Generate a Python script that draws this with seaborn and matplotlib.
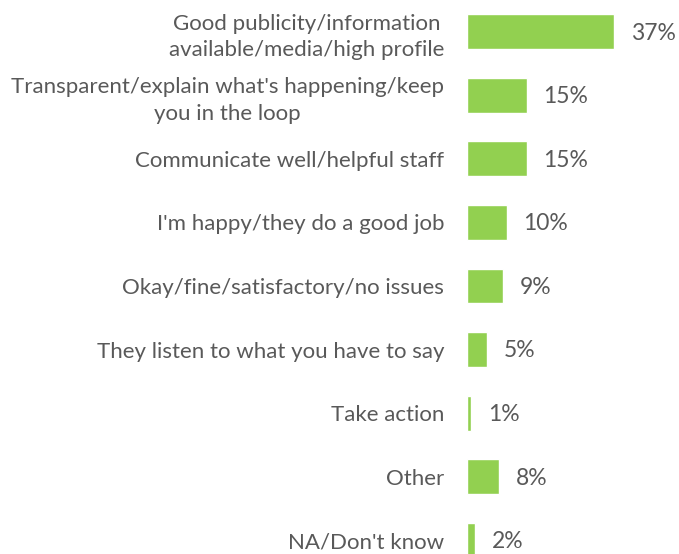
import matplotlib
matplotlib.use("Agg")
import matplotlib.pyplot as plt
import seaborn as sns
import pandas as pd

categories = [
    "Good publicity/information\navailable/media/high profile",
    "Transparent/explain what's happening/keep\nyou in the loop",
    "Communicate well/helpful staff",
    "I'm happy/they do a good job",
    "Okay/fine/satisfactory/no issues",
    "They listen to what you have to say",
    "Take action",
    "Other",
    "NA/Don't know",
]
values = [37, 15, 15, 10, 9, 5, 1, 8, 2]
value_labels = ["37%", "15%", "15%", "10%", "9%", "5%", "1%", "8%", "2%"]

sns.set_style("white")
plt.rcParams["font.family"] = ["Lato", "DejaVu Sans"]

GREEN = "#92D050"
TEXT = "#595959"

df = pd.DataFrame({"reason": categories, "pct": values})

fig = plt.figure(figsize=(6.79, 5.54), dpi=100)
ax = fig.add_axes([467 / 679, 0, 212 / 679, 1])

sns.barplot(data=df, y="reason", x="pct", orient="h", color=GREEN,
            saturation=1, width=0.55, ax=ax)

ax.set_xlim(0, 212 / 3.97)
ax.set_ylim(8.217, -0.5)
ax.set_xlabel("")
ax.set_ylabel("")
ax.set_xticks([])
for s in ax.spines.values():
    s.set_visible(False)

ax.tick_params(axis="y", length=0, pad=16.5, labelsize=16, labelcolor=TEXT)
for lbl in ax.get_yticklabels():
    lbl.set_multialignment("center")
    lbl.set_linespacing(1.4)

for i, (v, t) in enumerate(zip(values, value_labels)):
    ax.annotate(t, xy=(v, i), xytext=(12, -1), textcoords="offset points",
                ha="left", va="center", fontsize=16.5, color=TEXT)

fig.savefig("out.png", dpi=100)
